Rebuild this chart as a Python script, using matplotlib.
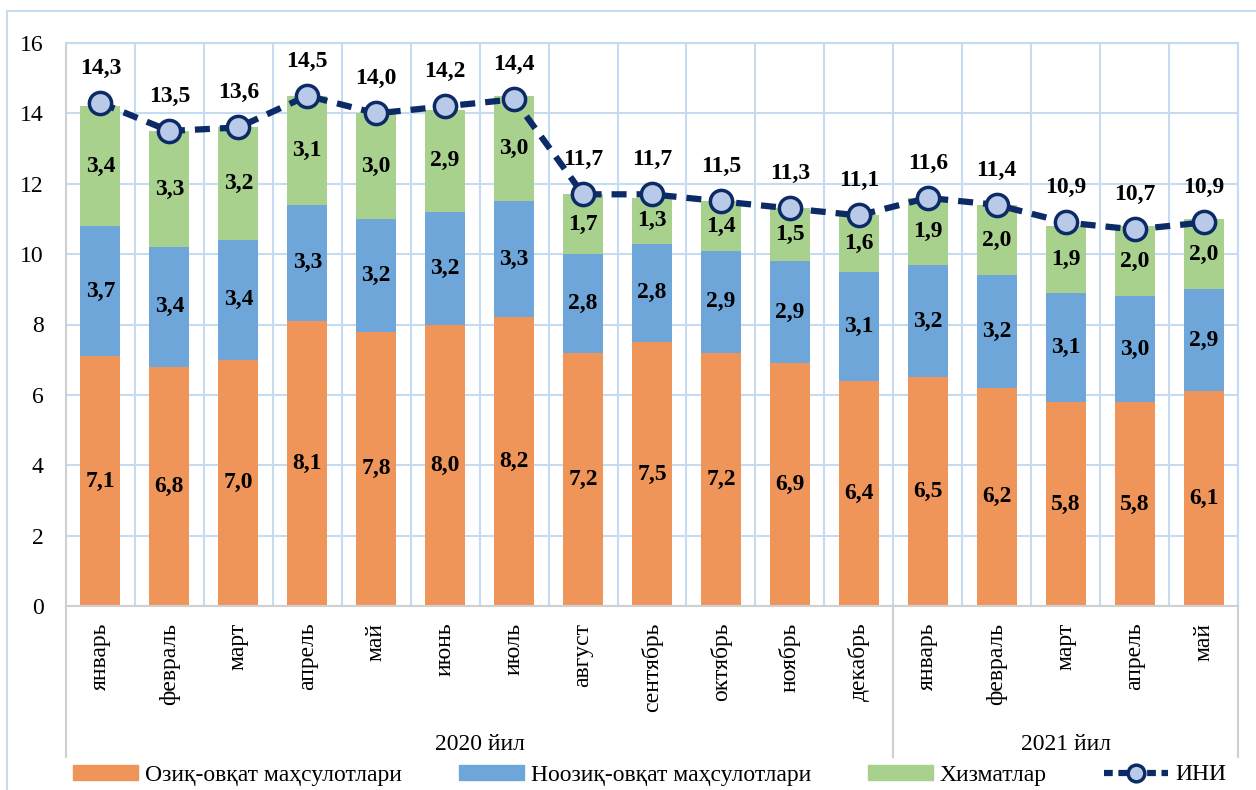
import numpy as np
import matplotlib
matplotlib.use("Agg")
import matplotlib.pyplot as plt
from matplotlib.patches import Patch
from matplotlib.lines import Line2D

plt.rcParams['font.family'] = ['Liberation Serif', 'DejaVu Serif']

# ---------------
# Data
# ---------------
months = ["январь", "февраль", "март", "апрель", "май", "июнь", "июль", "август",
          "сентябрь", "октябрь", "ноябрь", "декабрь",
          "январь", "февраль", "март", "апрель", "май"]
food = [7.1, 6.8, 7.0, 8.1, 7.8, 8.0, 8.2, 7.2, 7.5, 7.2, 6.9, 6.4, 6.5, 6.2, 5.8, 5.8, 6.1]
nonfood = [3.7, 3.4, 3.4, 3.3, 3.2, 3.2, 3.3, 2.8, 2.8, 2.9, 2.9, 3.1, 3.2, 3.2, 3.1, 3.0, 2.9]
services = [3.4, 3.3, 3.2, 3.1, 3.0, 2.9, 3.0, 1.7, 1.3, 1.4, 1.5, 1.6, 1.9, 2.0, 1.9, 2.0, 2.0]
ini = [14.3, 13.5, 13.6, 14.5, 14.0, 14.2, 14.4, 11.7, 11.7, 11.5, 11.3, 11.1, 11.6, 11.4, 10.9, 10.7, 10.9]
years = ["2020 йил", "2021 йил"]
year_counts = [12, 5]
series_names = ["Озиқ-овқат маҳсулотлари", "Ноозиқ-овқат маҳсулотлари", "Хизматлар", "ИНИ"]

# colours
c_food = "#F0955A"
c_nonfood = "#6FA6DA"
c_serv = "#A9D18E"
c_line = "#0B2A66"
c_mark = "#B8CAE8"
c_grid = "#C5DBF0"
c_axis = "#D0D0D0"

fig = plt.figure(figsize=(12.56, 7.9), dpi=100)
ax = fig.add_axes([66/1256, 1 - 606/790, (1238-66)/1256, (606-43)/790])

x = np.arange(len(months))
food = np.array(food)
nonfood = np.array(nonfood)
services = np.array(services)
w = 0.58

ax.bar(x, food, w, color=c_food, zorder=2)
ax.bar(x, nonfood, w, bottom=food, color=c_nonfood, zorder=2)
ax.bar(x, services, w, bottom=food + nonfood, color=c_serv, zorder=2)
ax.plot(x, ini, color=c_line, lw=4.5, ls=(0, (2.4, 1.6)), marker="o", ms=16,
        mfc=c_mark, mec=c_line, mew=2.5, zorder=4)

# segment labels
lab = dict(ha="center", va="center", fontsize=17, fontweight="bold", zorder=5)
for i in x:
    ax.text(i, food[i] / 2, f"{food[i]:.1f}".replace(".", ","), **lab)
    ax.text(i, food[i] + nonfood[i] / 2, f"{nonfood[i]:.1f}".replace(".", ","), **lab)
    ax.text(i, food[i] + nonfood[i] + services[i] / 2, f"{services[i]:.1f}".replace(".", ","), **lab)
    ax.annotate(f"{ini[i]:.1f}".replace(".", ","), (i, ini[i]), xytext=(0, 25),
                textcoords="offset points", **lab)

ax.set_xlim(-0.5, len(months) - 0.5)
ax.set_ylim(0, 16)
ax.set_yticks(np.arange(0, 17, 2))
ax.set_xticks(x)
ax.set_xticklabels(months, rotation=90, fontsize=17, va="top")
ax.set_xticks(np.arange(-0.5, len(months), 1), minor=True)
ax.tick_params(axis="x", which="both", length=0, pad=12)
ax.tick_params(axis="y", length=0, labelsize=17, pad=16)
ax.grid(axis="y", color=c_grid, lw=1.5, zorder=0)
ax.grid(axis="x", which="minor", color=c_grid, lw=1.5, zorder=0)
ax.grid(axis="x", which="major", visible=False)
for s in ["top", "right"]:
    ax.spines[s].set_color(c_grid)
    ax.spines[s].set_linewidth(1.5)
ax.spines["left"].set_color(c_axis)
ax.spines["left"].set_linewidth(1.5)
ax.spines["bottom"].set_color(c_axis)
ax.spines["bottom"].set_linewidth(1.5)

# group separators and year labels
trans = ax.get_xaxis_transform()
y_low = -(757 - 606) / (606 - 43)
start = -0.5
for yr, n in zip(years, year_counts):
    end = start + n
    ax.plot([start, start], [0, y_low], transform=trans, color=c_axis, lw=1.5, clip_on=False)
    ax.plot([end, end], [0, y_low], transform=trans, color=c_axis, lw=1.5, clip_on=False)
    ax.text((start + end) / 2, -(745 - 606) / (606 - 43), yr, transform=trans,
            ha="center", va="center", fontsize=17)
    start = end

# chart frame (left/top visible)
fig.add_artist(Line2D([7/1256, 7/1256], [0, 1 - 11/790], color=c_grid, lw=1.5))
fig.add_artist(Line2D([7/1256, 1], [1 - 11/790, 1 - 11/790], color=c_grid, lw=1.5))

handles = [Patch(color=c_food), Patch(color=c_nonfood), Patch(color=c_serv),
           Line2D([], [], color=c_line, lw=4.5, ls=(0, (1.4, 0.9)), marker="o", ms=12,
                  mfc=c_mark, mec=c_line, mew=2.5)]
fig.legend(handles, series_names, loc="center", bbox_to_anchor=(0.5175, 1 - 775/790),
           ncol=4, frameon=False, fontsize=17, handlelength=2.75, handleheight=0.6,
           columnspacing=2.4, handletextpad=0.3)

fig.savefig("out.png", dpi=100)
